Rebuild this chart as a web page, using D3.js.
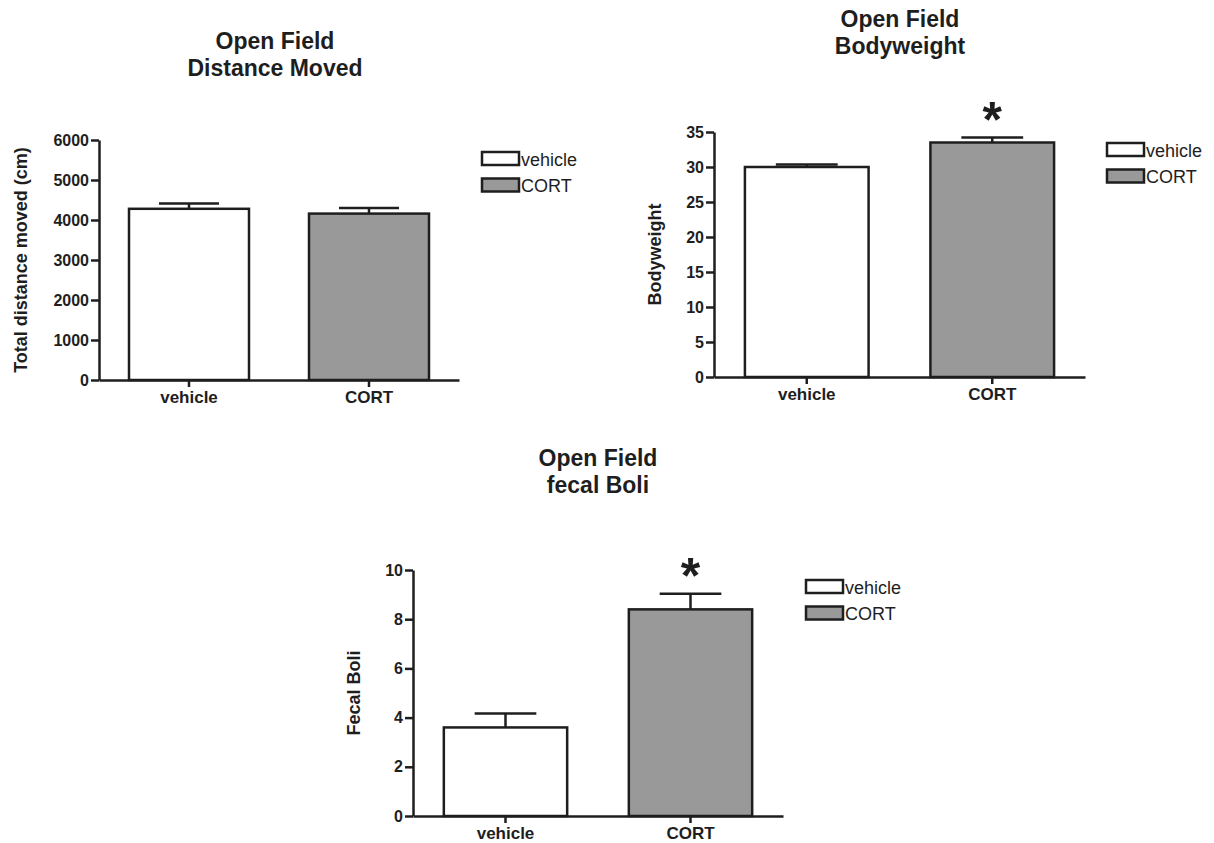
<!DOCTYPE html>
<html>
<head>
<meta charset="utf-8">
<style>
  body { margin: 0; background: #fff; }
  svg { font-family: "Liberation Sans", Arial, sans-serif; }
  .axis path, .axis line { stroke: #1e1e1e; stroke-width: 2.5; }
  .axis text { font-size: 16px; font-weight: bold; fill: #1e1e1e; }
  .xaxis text { font-size: 17px; }
  .title { font-size: 23px; font-weight: bold; fill: #1e1e1e; }
  .ylabel { font-size: 18px; font-weight: bold; fill: #1e1e1e; }
  .legend text { font-size: 18px; fill: #1e1e1e; }
</style>
</head>
<body>
<svg width="1214" height="843"></svg>
<script src="https://d3js.org/d3.v7.min.js"></script>
<script>
// groups
var groups = ["vehicle", "CORT"];
var groupFill = ["#ffffff", "#999999"];

// distance moved (cm)
var distanceMean = [4280, 4160];
var distanceSem = [135, 140];
var distanceTicks = [0, 1000, 2000, 3000, 4000, 5000, 6000];

// bodyweight
var weightMean = [30.0, 33.5];
var weightSem = [0.35, 0.7];
var weightTicks = [0, 5, 10, 15, 20, 25, 30, 35];

// fecal boli
var boliMean = [3.6, 8.4];
var boliSem = [0.57, 0.63];
var boliTicks = [0, 2, 4, 6, 8, 10];

var svg = d3.select("svg");

var panels = [
  {title: ["Open Field", "Distance Moved"], ylabel: "Total distance moved (cm)",
   mean: distanceMean, sem: distanceSem, ticks: distanceTicks, star: [false, false],
   x0: 99, x1: 459, y0: 380, y1: 140, titleX: 275, titleY: 49, ylabX: 27,
   legX: 482, legY: 152},
  {title: ["Open Field", "Bodyweight"], ylabel: "Bodyweight",
   mean: weightMean, sem: weightSem, ticks: weightTicks, star: [false, true],
   x0: 714, x1: 1085, y0: 377, y1: 132, titleX: 900, titleY: 27, ylabX: 661,
   legX: 1107, legY: 143},
  {title: ["Open Field", "fecal Boli"], ylabel: "Fecal Boli",
   mean: boliMean, sem: boliSem, ticks: boliTicks, star: [false, true],
   x0: 413, x1: 783, y0: 816, y1: 570, titleX: 598, titleY: 466, ylabX: 360,
   legX: 806, legY: 580}
];

panels.forEach(function(p) {
  var x = d3.scaleBand().domain(groups).range([p.x0, p.x1])
      .paddingInner(1 / 3).paddingOuter(1 / 6);
  var y = d3.scaleLinear().domain([0, d3.max(p.ticks)]).range([p.y0, p.y1]);
  var g = svg.append("g");

  var rows = groups.map(function(k, i) {
    return {key: k, mean: p.mean[i], sem: p.sem[i], fill: groupFill[i], star: p.star[i]};
  });

  // title
  g.append("text").attr("class", "title")
    .attr("x", p.titleX).attr("y", p.titleY)
    .attr("text-anchor", "middle")
    .selectAll("tspan").data(p.title).enter().append("tspan")
      .attr("x", p.titleX).attr("dy", function(d, i) { return i ? 27 : 0; })
      .text(function(d) { return d; });

  // error bars (upper only)
  var err = g.append("g").selectAll("g").data(rows).enter().append("g");
  err.append("line")
    .attr("x1", function(d) { return x(d.key) + x.bandwidth() / 2; })
    .attr("x2", function(d) { return x(d.key) + x.bandwidth() / 2; })
    .attr("y1", function(d) { return y(d.mean); })
    .attr("y2", function(d) { return y(d.mean + d.sem); })
    .attr("stroke", "#1e1e1e").attr("stroke-width", 2.5);
  err.append("line")
    .attr("x1", function(d) { return x(d.key) + x.bandwidth() / 4; })
    .attr("x2", function(d) { return x(d.key) + x.bandwidth() * 3 / 4; })
    .attr("y1", function(d) { return y(d.mean + d.sem); })
    .attr("y2", function(d) { return y(d.mean + d.sem); })
    .attr("stroke", "#1e1e1e").attr("stroke-width", 2.5);

  // bars
  g.append("g").selectAll("rect").data(rows).enter().append("rect")
    .attr("x", function(d) { return x(d.key); })
    .attr("y", function(d) { return y(d.mean); })
    .attr("width", x.bandwidth())
    .attr("height", function(d) { return y(0) - y(d.mean); })
    .attr("fill", function(d) { return d.fill; })
    .attr("stroke", "#1e1e1e").attr("stroke-width", 2.5);

  // significance
  g.append("g").selectAll("text").data(rows.filter(function(d) { return d.star; }))
    .enter().append("text")
    .attr("x", function(d) { return x(d.key) + x.bandwidth() / 2; })
    .attr("y", function(d) { return y(d.mean + d.sem) - 1; })
    .attr("text-anchor", "middle")
    .attr("font-size", 50).attr("font-weight", "bold").attr("fill", "#1e1e1e")
    .text("*");

  // axes
  g.append("g").attr("class", "axis")
    .attr("transform", "translate(" + p.x0 + ",0)")
    .call(d3.axisLeft(y).tickValues(p.ticks).tickFormat(d3.format("d"))
      .tickSize(8).tickPadding(2).tickSizeOuter(0));
  g.append("g").attr("class", "axis xaxis")
    .attr("transform", "translate(0," + p.y0 + ")")
    .call(d3.axisBottom(x).tickSize(7).tickPadding(4).tickSizeOuter(0));

  // y label
  g.append("text").attr("class", "ylabel")
    .attr("transform", "translate(" + p.ylabX + "," + ((p.y0 + p.y1) / 2) + ") rotate(-90)")
    .attr("text-anchor", "middle")
    .text(p.ylabel);

  // legend
  var leg = g.append("g").attr("class", "legend")
    .selectAll("g").data(rows).enter().append("g")
    .attr("transform", function(d, i) { return "translate(" + p.legX + "," + (p.legY + i * 26.5) + ")"; });
  leg.append("rect")
    .attr("width", 37).attr("height", 13)
    .attr("fill", function(d) { return d.fill; })
    .attr("stroke", "#1e1e1e").attr("stroke-width", 2.5);
  leg.append("text")
    .attr("x", 39).attr("y", 13.5)
    .text(function(d) { return d.key; });
});
</script>
</body>
</html>
